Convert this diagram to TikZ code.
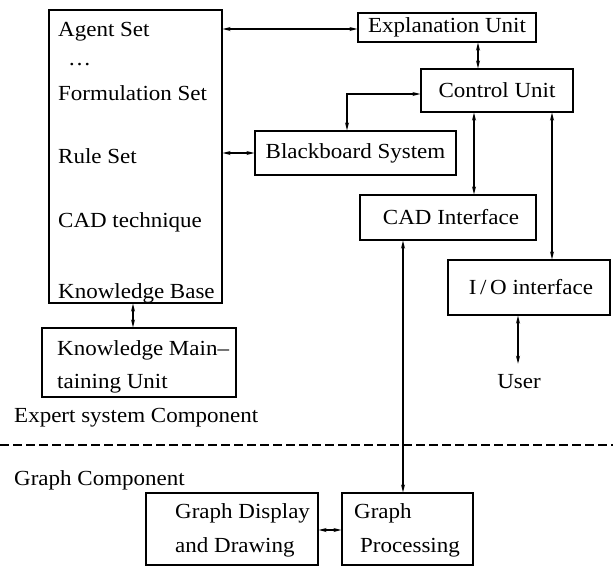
\documentclass[tikz,border=0pt]{standalone}
\usepackage{fontspec}
\setmainfont{Liberation Serif}[FakeStretch=1.07]
\usetikzlibrary{arrows.meta}
\begin{document}
\begin{tikzpicture}[x=1pt,y=-1pt,
  font=\fontsize{21.5}{25}\selectfont,
  box/.style={draw,line width=1.2pt,inner sep=0pt,align=center},
  lbl/.style={inner sep=0pt,anchor=base west},
  conn/.style={line width=1.2pt,{Stealth[length=8pt,width=4pt]}-{Stealth[length=8pt,width=4pt]}},
]
\useasboundingbox (0,0) rectangle (613,566);
% boxes
\node[box,minimum width=173pt,minimum height=293pt] (big) at (135.5,156.5) {};
\node[box,minimum width=178pt,minimum height=29pt] (expl) at (447,27.5) {Explanation Unit};
\node[box,minimum width=152pt,minimum height=43pt] (ctrl) at (497,90.5) {Control Unit};
\node[box,minimum width=201pt,minimum height=44pt] (bb) at (355.5,153) {Blackboard System};
\node[box,minimum width=176pt,minimum height=45pt] (cad) at (448,217.5) {\hspace*{6pt}CAD Interface};
\node[box,minimum width=162pt,minimum height=55pt] (io) at (529,287.5) {\hspace*{4pt}I\,/\,O interface};
\node[box,minimum width=194pt,minimum height=69pt] (kmu) at (139,362.5) {};
\node[box,minimum width=172pt,minimum height=72pt] (gdd) at (232,529) {};
\node[box,minimum width=131pt,minimum height=72pt] (gp) at (407.5,529) {};
% texts in big box
\node[lbl] (t1) at (58,36) {Agent Set};
\node[lbl] (t2) at (68,65) {\ldots};
\node[lbl] (t3) at (58,100) {Formulation Set};
\node[lbl] (t4) at (58,163) {Rule Set};
\node[lbl] (t5) at (58,227) {CAD technique};
\node[lbl] (t6) at (58,298) {Knowledge Base};
% texts in other boxes
\node[lbl] (k1) at (57,355) {Knowledge Main--};
\node[lbl] (k2) at (57,388) {taining Unit};
\node[lbl] (g1) at (175,518) {Graph Display};
\node[lbl] (g2) at (175,552) {and Drawing};
\node[lbl] (p1) at (354,518) {Graph};
\node[lbl] (p2) at (360,552) {Processing};
% free labels
\node[lbl] (esc) at (14,422) {Expert system Component};
\node[lbl] (gc) at (14,485) {Graph Component};
\node[inner sep=0pt,anchor=base] (user) at (519,388) {User};
% dashed separator
\coordinate (dl) at (0,445);
\coordinate (dr) at (613,445);
\draw[line width=1.1pt,dash pattern=on 9pt off 4pt] (dl) -- (dr);
% connectors
\draw[conn] ([yshift=-1.5pt]expl.west -| big.east) -- ([yshift=-1.5pt]expl.west);
\draw[conn] (bb.west -| big.east) -- (bb.west);
\draw[conn] ([xshift=31pt]expl.south) -- ([xshift=31pt]expl.south |- ctrl.north);
\draw[conn] ([yshift=-3.5pt]ctrl.west) -| ([xshift=-8.5pt]bb.north);
\draw[conn] ([xshift=-23pt]ctrl.south) -- ([xshift=-23pt]ctrl.south |- cad.north);
\draw[conn] ([xshift=55pt]ctrl.south) -- ([xshift=55pt]ctrl.south |- io.north);
\draw[conn] ([xshift=-45pt]cad.south) -- ([xshift=-45pt]cad.south |- gp.north);
\draw[conn] ([xshift=-11pt]io.south) -- ([xshift=-11pt,yshift=10pt]io.south |- user.north);
\draw[conn] ([xshift=-2.5pt]big.south) -- ([xshift=-2.5pt]big.south |- kmu.north);
\draw[conn] ([yshift=-1pt]gdd.east) -- ([yshift=-1pt]gp.west);
\end{tikzpicture}
\end{document}
